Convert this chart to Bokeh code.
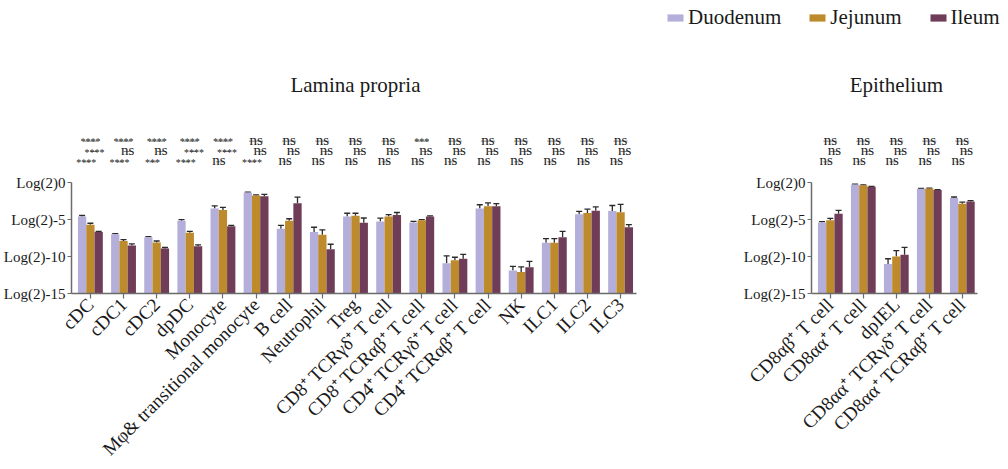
import math

from bokeh.core.properties import value
from bokeh.embed import file_html
from bokeh.layouts import column, row
from bokeh.models import (ColumnDataSource, FixedTicker, Legend, LegendItem,
                          Range1d, TeeHead, Whisker)
from bokeh.plotting import figure
from bokeh.resources import INLINE

FONT = "Liberation Serif"

# ---- data -------------------------------------------------------------
regions = ["Duodenum", "Jejunum", "Ileum"]
colors = ["#B4AFDA", "#BD8A2C", "#6F3D57"]

lp_cells = ["cDC", "cDC1", "cDC2", "dpDC", "Monocyte",
            "Mφ& transitional monocyte", "B cell", "Neutrophil", "Treg",
            "CD8⁺ TCRγδ⁺ T cell", "CD8⁺ TCRαβ⁺ T cell",
            "CD4⁺ TCRγδ⁺ T cell", "CD4⁺ TCRαβ⁺ T cell",
            "NK", "ILC1", "ILC2", "ILC3"]
lp_duodenum = [-4.6, -7.0, -7.4, -5.15, -3.5, -1.35, -6.25, -6.7, -4.6,
               -5.25, -5.4, -10.9, -3.5, -11.9, -8.15, -4.3, -3.85]
lp_jejunum = [-5.7, -7.9, -8.1, -6.8, -3.7, -1.75, -5.15, -7.05, -4.5,
              -4.6, -5.1, -10.5, -3.2, -12.1, -8.15, -4.1, -4.0]
lp_ileum = [-6.7, -8.5, -8.9, -8.6, -5.9, -1.85, -2.8, -9.0, -5.45,
            -4.4, -4.6, -10.3, -3.2, -11.45, -7.4, -3.8, -6.05]
lp_err_duodenum = [0.15, 0.1, 0.1, 0.13, 0.35, 0.05, 0.45, 0.66, 0.45,
                   0.45, 0.15, 1.0, 0.5, 0.57, 0.57, 0.4, 0.75]
lp_err_jejunum = [0.2, 0.18, 0.2, 0.2, 0.35, 0.08, 0.26, 0.66, 0.35,
                  0.26, 0.1, 0.4, 0.45, 0.7, 0.57, 0.5, 1.05]
lp_err_ileum = [0.1, 0.2, 0.12, 0.18, 0.1, 0.26, 0.84, 0.66, 0.66,
                0.35, 0.1, 0.6, 0.35, 0.8, 0.8, 0.5, 0.35]
# significance: (Duodenum vs Ileum, Jejunum vs Ileum, Duodenum vs Jejunum)
lp_sig = [("****", "****", "****"), ("****", "ns", "****"),
          ("****", "ns", "***"), ("****", "****", "****"),
          ("****", "****", "ns"), ("ns", "ns", "****"),
          ("ns", "ns", "ns"), ("ns", "ns", "ns"), ("ns", "ns", "ns"),
          ("ns", "ns", "ns"), ("***", "ns", "ns"), ("ns", "ns", "ns"),
          ("ns", "ns", "ns"), ("ns", "ns", "ns"), ("ns", "ns", "ns"),
          ("ns", "ns", "ns"), ("ns", "ns", "ns")]

ep_cells = ["CD8αβ⁺ T cell", "CD8αα⁺ T cell", "dpIEL",
            "CD8αα⁺ TCRγδ⁺ T cell", "CD8αα⁺ TCRαβ⁺ T cell"]
ep_duodenum = [-5.4, -0.26, -11.0, -0.84, -2.1]
ep_jejunum = [-5.1, -0.35, -10.0, -0.8, -2.85]
ep_ileum = [-4.2, -0.57, -9.75, -1.0, -2.55]
ep_err_duodenum = [0.13, 0.05, 0.7, 0.05, 0.15]
ep_err_jejunum = [0.26, 0.05, 0.8, 0.05, 0.2]
ep_err_ileum = [0.45, 0.05, 1.0, 0.05, 0.1]
ep_sig = [("ns", "ns", "ns")] * 5

y_ticks = [-15, -10, -5, 0]
y_tick_labels = ["Log(2)-15", "Log(2)-10", "Log(2)-5", "Log(2)0"]

# ---- drawing ----------------------------------------------------------
BAR_W = 0.25
Y_MIN, Y_MAX = -15, 19.21
AXIS_COLOR = "#6b6b6b"


def panel(title, labels, series, errors, sig, width, border_right, x_end):
    n = len(labels)
    p = figure(width=width, height=429, output_backend="svg",
               toolbar_location=None,
               x_range=Range1d(-0.57, x_end), y_range=Range1d(Y_MIN, Y_MAX),
               min_border_left=70, min_border_right=border_right,
               min_border_top=0, min_border_bottom=169)
    p.outline_line_color = None
    p.grid.visible = False
    p.background_fill_color = "white"

    offsets = [-BAR_W, 0.0, BAR_W]
    for vals, errs, off, col in zip(series, errors, offsets, colors):
        xs = [k + off for k in range(n)]
        src = ColumnDataSource(dict(
            x=xs, top=vals,
            upper=[v + e for v, e in zip(vals, errs)]))
        p.vbar(x="x", top="top", bottom=Y_MIN, width=BAR_W, source=src,
               fill_color=col, line_color=None)
        p.add_layout(Whisker(base="x", lower="top", upper="upper",
                             source=src, line_color="#2b2b2b", line_width=1.3,
                             lower_head=None,
                             upper_head=TeeHead(size=6, line_color="#2b2b2b",
                                                line_width=1.3)))

    # comparison brackets with their labels
    rows_spec = [(-BAR_W, BAR_W, 5.6), (0.0, BAR_W, 4.2), (-BAR_W, 0.0, 2.8)]
    sx0, sx1, sy, tx, ty, tt, tsz = [], [], [], [], [], [], []
    for k, marks in enumerate(sig):
        for (a, b, yl), mark in zip(rows_spec, marks):
            sx0.append(k + a * 0.85)
            sx1.append(k + b * 0.85)
            sy.append(yl)
            tx.append(k + (a + b) / 2)
            if mark == "ns":
                ty.append(yl + 0.2)
                tsz.append("15px")
            else:
                ty.append(yl - 0.1)
                tsz.append("10px")
            tt.append(mark)
    p.segment(x0=sx0, y0=sy, x1=sx1, y1=sy, line_color="#8a8a8a",
              line_width=1)
    p.text(x="x", y="y", text="t", source=ColumnDataSource(
        dict(x=tx, y=ty, t=tt, s=tsz)), text_font_size="s",
        text_font=value(FONT), text_align="center",
        text_baseline="alphabetic", text_color="#1e1e1e")

    p.text(x=[(n - 1) / 2], y=[13.16], text=[title], text_align="center",
           text_baseline="alphabetic", text_font=value(FONT),
           text_font_size="21px", text_color="#1a1a1a")

    xa = p.xaxis[0]
    xa.ticker = FixedTicker(ticks=list(range(n)))
    xa.major_label_overrides = {k: lab for k, lab in enumerate(labels)}
    xa.major_label_orientation = math.pi / 4
    xa.major_label_text_font = FONT
    xa.major_label_text_font_size = "19px"
    xa.major_label_text_color = "#1a1a1a"
    xa.major_label_standoff = 3
    xa.major_tick_in = 0
    xa.major_tick_out = 5
    xa.minor_tick_out = 0
    xa.minor_tick_in = 0
    xa.axis_line_color = AXIS_COLOR
    xa.axis_line_width = 1.5
    xa.major_tick_line_color = AXIS_COLOR
    xa.major_tick_line_width = 1.2

    ya = p.yaxis[0]
    ya.ticker = FixedTicker(ticks=y_ticks)
    ya.major_label_overrides = dict(zip(y_ticks, y_tick_labels))
    ya.bounds = (Y_MIN, 0)
    ya.major_label_text_font = FONT
    ya.major_label_text_font_size = "15px"
    ya.major_label_text_color = "#1a1a1a"
    ya.major_label_standoff = 2
    ya.major_tick_in = 0
    ya.major_tick_out = 4
    ya.minor_tick_out = 0
    ya.minor_tick_in = 0
    ya.axis_line_color = AXIS_COLOR
    ya.axis_line_width = 1.5
    ya.major_tick_line_color = AXIS_COLOR
    ya.major_tick_line_width = 1.2
    return p


left = panel("Lamina propria", lp_cells,
             [lp_duodenum, lp_jejunum, lp_ileum],
             [lp_err_duodenum, lp_err_jejunum, lp_err_ileum],
             lp_sig, width=740, border_right=104, x_end=16.48)
right = panel("Epithelium", ep_cells,
              [ep_duodenum, ep_jejunum, ep_ileum],
              [ep_err_duodenum, ep_err_jejunum, ep_err_ileum],
              ep_sig, width=268, border_right=31, x_end=4.46)

# legend strip across the top; each entry is backed by a one-bar renderer
# parked outside the strip's visible range so only its swatch shows
top = figure(width=1008, height=40, output_backend="svg",
             toolbar_location=None, x_range=Range1d(0, 1),
             y_range=Range1d(0, 1), x_axis_location=None,
             y_axis_location=None, min_border=0)
top.outline_line_color = None
top.grid.visible = False
items = []
for name, col in zip(regions, colors):
    r = top.vbar(x=[-5], top=[-5], bottom=-6, width=0.1, fill_color=col,
                 line_color=None)
    items.append(LegendItem(label=name, renderers=[r]))
legend = Legend(items=items, orientation="horizontal", location=(665, 10),
                padding=0, margin=0, spacing=26, glyph_width=20,
                glyph_height=9, label_standoff=3, border_line_color=None,
                background_fill_alpha=0, label_text_font=FONT,
                label_text_font_size="21px", label_text_color="#1a1a1a")
top.add_layout(legend)

layout = column(top, row(left, right))

with open("out.html", "w") as f:
    f.write(file_html(layout, INLINE))
